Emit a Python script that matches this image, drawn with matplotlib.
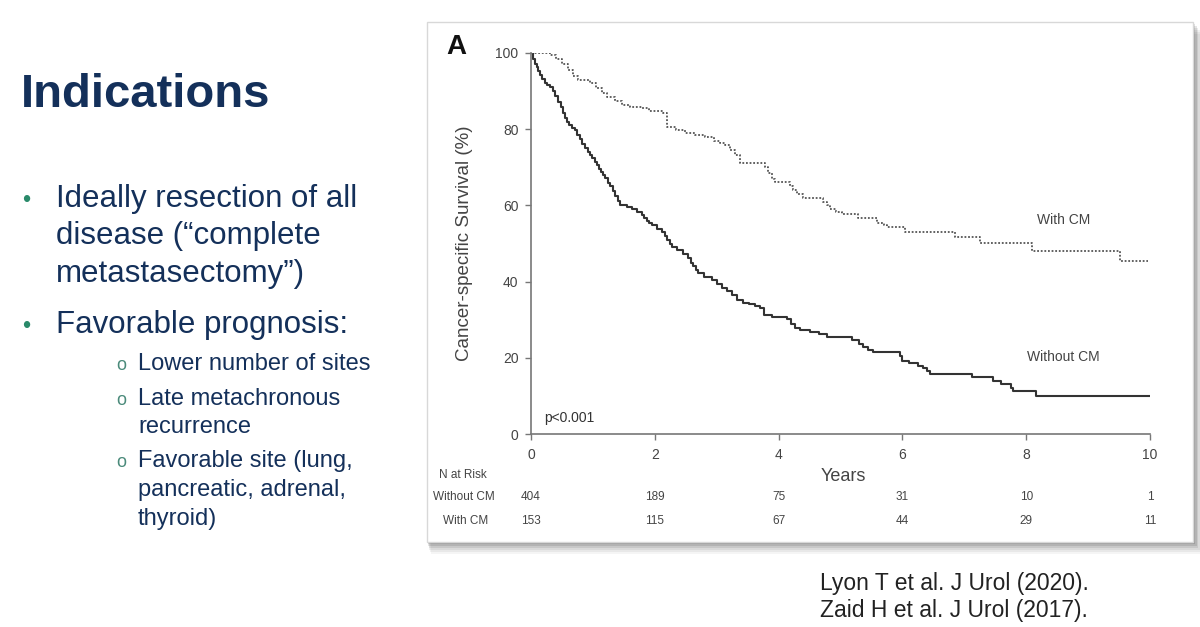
import matplotlib
matplotlib.use('Agg')
import matplotlib.pyplot as plt
from matplotlib.patches import Rectangle

plt.rcParams['font.family'] = ['Liberation Sans', 'DejaVu Sans']

# survival curves (time in years, survival % after the step)
without_t = [0, 0.03, 0.06, 0.09, 0.12, 0.15, 0.18, 0.22, 0.26, 0.31, 0.35, 0.39, 0.44, 0.48, 0.52,
             0.55, 0.58, 0.62, 0.66, 0.71, 0.75, 0.79, 0.83, 0.87, 0.92, 0.95, 0.99, 1.03, 1.06,
             1.1, 1.13, 1.17, 1.2, 1.24, 1.28, 1.32, 1.36, 1.4, 1.44, 1.55, 1.63, 1.72, 1.79, 1.83,
             1.87, 1.91, 1.95, 2.03, 2.12, 2.16, 2.2, 2.24, 2.28, 2.36, 2.45, 2.54, 2.58, 2.62, 2.66,
             2.7, 2.8, 2.92, 3.0, 3.09, 3.17, 3.25, 3.33, 3.42, 3.52, 3.62, 3.7, 3.76, 3.9, 4.14,
             4.2, 4.26, 4.35, 4.5, 4.65, 4.78, 5.19, 5.3, 5.36, 5.45, 5.53, 5.96, 6.0, 6.1, 6.25,
             6.33, 6.4, 6.45, 7.12, 7.46, 7.6, 7.75, 7.79, 8.16, 10.0]
without_s = [100, 98.5, 97.2, 96.2, 95.2, 94.2, 93.2, 92.2, 91.6, 91.0, 90.0, 88.6, 87.1, 85.8, 84.3,
             83.0, 81.9, 81.0, 80.4, 79.8, 78.6, 77.3, 76.0, 75.0, 74.0, 73.2, 72.4, 71.3, 70.5,
             69.6, 68.8, 68.0, 67.2, 66.0, 65.0, 63.7, 62.5, 61.2, 60.1, 59.6, 59.0, 58.2, 57.5, 56.8,
             56.0, 55.4, 54.9, 53.8, 53.0, 52.0, 51.0, 50.0, 49.1, 48.2, 47.3, 46.2, 45.0, 44.0, 43.1,
             42.3, 41.2, 40.4, 39.4, 38.3, 37.5, 36.5, 35.3, 34.4, 34.0, 33.5, 33.0, 31.2, 30.7, 30.2,
             29.0, 27.8, 27.3, 26.8, 26.2, 25.4, 24.6, 23.5, 22.8, 22.0, 21.5, 20.5, 19.2, 18.6, 17.8,
             17.3, 16.5, 15.7, 14.9, 13.9, 13.1, 12.2, 11.3, 10.0, 10.0]

with_t = [0, 0.23, 0.3, 0.4, 0.5, 0.6, 0.68, 0.76, 0.95, 1.05, 1.15, 1.23, 1.35, 1.47, 1.6, 1.79,
          1.9, 2.13, 2.2, 2.35, 2.49, 2.65, 2.81, 2.95, 3.05, 3.13, 3.22, 3.3, 3.38, 3.78, 3.83,
          3.9, 3.94, 4.18, 4.23, 4.3, 4.39, 4.72, 4.78, 4.83, 4.93, 5.02, 5.28, 5.59, 5.7, 5.75,
          6.04, 6.85, 7.25, 8.09, 9.52, 9.97]
with_s = [100, 100, 99.5, 98.5, 97.0, 95.5, 94.0, 92.9, 92.0, 90.8, 89.5, 88.5, 87.5, 86.4, 85.9, 85.6,
          84.8, 84.3, 80.6, 79.8, 79.0, 78.5, 78.0, 77.0, 76.5, 75.9, 74.5, 73.2, 71.0, 70.0, 68.5,
          67.0, 66.1, 65.0, 64.0, 63.0, 62.0, 61.0, 60.0, 59.0, 58.3, 57.7, 56.7, 55.5, 54.8, 54.3,
          53.0, 51.7, 50.1, 48.0, 45.4, 45.4]

risk_years = [0, 2, 4, 6, 8, 10]
risk_without = [404, 189, 75, 31, 10, 1]
risk_with = [153, 115, 67, 44, 29, 11]

title = 'Indications'
bullets = ['Ideally resection of all\ndisease (\u201ccomplete\nmetastasectomy\u201d)', 'Favorable prognosis:']
sub_bullets = ['Lower number of sites', 'Late metachronous\nrecurrence',
               'Favorable site (lung,\npancreatic, adrenal,\nthyroid)']
refs = 'Lyon T et al. J Urol (2020).\nZaid H et al. J Urol (2017).'

W, H = 1200, 627
fig = plt.figure(figsize=(12, 6.27), dpi=100)
fig.patch.set_facecolor('white')


def fx(px):
    return px / W


def fy(py):
    return 1 - py / H


navy = '#14305a'
green = '#2a8a6a'

# slide text
fig.text(fx(21), fy(107), title, fontsize=34, fontweight='bold', color=navy, va='baseline')

bullet_base = [[207, 244, 282], [333]]
for lines, ys in zip(bullets, bullet_base):
    fig.text(fx(22), fy(ys[0]), '\u2022', fontsize=17, color=green, va='baseline')
    for line, y in zip(lines.split('\n'), ys):
        fig.text(fx(56), fy(y), line, fontsize=22.5, color=navy, va='baseline')

sub_base = [[370], [405, 433], [467, 496, 525]]
for lines, ys in zip(sub_bullets, sub_base):
    fig.text(fx(116), fy(ys[0]), 'o', fontsize=13, color='#4a8a7a', va='baseline')
    for line, y in zip(lines.split('\n'), ys):
        fig.text(fx(138), fy(y), line, fontsize=17, color=navy, va='baseline')

for line, y in zip(refs.split('\n'), [590, 617]):
    fig.text(fx(820), fy(y), line, fontsize=16.5, color='#222222', va='baseline')

# chart panel with a soft shadow
for i, a in enumerate([0.04, 0.05, 0.06, 0.08, 0.1, 0.12]):
    off = 12 - 2 * i
    fig.patches.append(Rectangle((fx(427 + off * 0.3), fy(542 + off)), fx(1193 - 427 + off * 0.6), (542 - 22) / H,
                                 transform=fig.transFigure, facecolor='black', alpha=a, lw=0, zorder=0))
fig.patches.append(Rectangle((fx(427), fy(542)), fx(1193 - 427), (542 - 22) / H,
                             transform=fig.transFigure, facecolor='white', edgecolor='#d8d8d8', lw=1, zorder=1))

ax = fig.add_axes([fx(531), fy(434), fx(1150 - 531), (434 - 53) / H])
ax.set_zorder(2)
ax.patch.set_alpha(0)

ax.plot(without_t, without_s, drawstyle='steps-post', color='#333333', lw=1.5)
ax.plot(with_t, with_s, drawstyle='steps-post', color='#555555', lw=1.3, linestyle=(0, (1, 1)))

ax.set_xlim(0, 10)
ax.set_ylim(0, 100)
ax.set_xticks(risk_years)
ax.set_yticks([0, 20, 40, 60, 80, 100])
for s in ['top', 'right']:
    ax.spines[s].set_visible(False)
for s in ['left', 'bottom']:
    ax.spines[s].set_color('#777777')
    ax.spines[s].set_linewidth(1.2)
ax.tick_params(direction='out', length=4, width=1, color='#777777', labelcolor='#444444', labelsize=10)
ax.tick_params(axis='x', pad=6)
ax.tick_params(axis='y', pad=5)

ax.set_ylabel('Cancer-specific Survival (%)', fontsize=13.5, color='#444444')
ax.yaxis.set_label_coords(-0.093, 0.5)
ax.set_xlabel('Years', fontsize=13, color='#444444')
ax.xaxis.set_label_coords(0.504, -0.089)

ax.text(8.6, 56.2, 'With CM', fontsize=10, color='#444444', ha='center', va='center')
ax.text(8.6, 20.2, 'Without CM', fontsize=10, color='#444444', ha='center', va='center')
ax.text(0.21, 4.2, 'p<0.001', fontsize=10, color='#333333', ha='left', va='center')

fig.text(fx(446), fy(47), 'A', fontsize=20, fontweight='bold', color='#111111', va='center', zorder=3)

# numbers at risk
tr = ax.get_xaxis_transform()
ax.text(-1.1, -0.108, 'N at Risk', transform=tr, fontsize=8.5, color='#444444', ha='center', va='center')
ax.text(-1.08, -0.165, 'Without CM', transform=tr, fontsize=8.5, color='#444444', ha='center', va='center')
ax.text(-1.06, -0.228, 'With CM', transform=tr, fontsize=8.5, color='#444444', ha='center', va='center')
for yr, n1, n2 in zip(risk_years, risk_without, risk_with):
    ax.text(yr, -0.165, str(n1), transform=tr, fontsize=8.5, color='#444444', ha='center', va='center')
    ax.text(yr, -0.228, str(n2), transform=tr, fontsize=8.5, color='#444444', ha='center', va='center')

fig.savefig('out.png', dpi=100)
